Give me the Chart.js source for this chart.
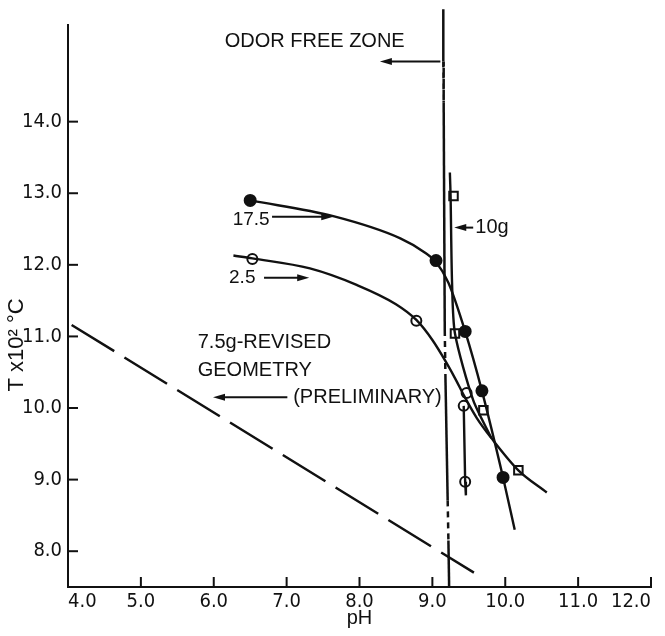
<!DOCTYPE html>
<html><head><meta charset="utf-8">
<script src="https://cdn.jsdelivr.net/npm/chart.js@4.4.1/dist/chart.umd.min.js"></script>
<style>html,body{margin:0;padding:0;background:#fff}canvas{display:block}</style>
</head><body>
<canvas id="c" width="665" height="636"></canvas>
<script>
// ---- tick values ----
const xTickValues = [4, 5, 6, 7, 8, 9, 10, 11, 12];
const yTickValues = [8, 9, 10, 11, 12, 13, 14];

// ---- measured points (markers) ----
const pH_175 = [6.50, 9.05, 9.45, 9.68, 9.97];
const T_175  = [12.90, 12.06, 11.07, 10.24, 9.03];
const pH_25  = [6.53, 8.78, 9.47, 9.43, 9.45];
const T_25   = [12.08, 11.22, 10.21, 10.03, 8.97];
const pH_10g = [9.29, 9.31, 9.70, 10.18];
const T_10g  = [12.96, 11.04, 9.97, 9.13];

// ---- drawn curves ----
const curve175_pH = [6.50, 7.64, 8.56, 8.90, 9.05, 9.22, 9.45, 9.68, 9.97, 10.13];
const curve175_T  = [12.90, 12.68, 12.37, 12.17, 12.04, 11.75, 11.07, 10.24, 9.03, 8.30];
const curve25_pH  = [6.27, 6.53, 7.32, 7.96, 8.50, 8.78, 9.00, 9.20, 9.33, 9.43, 9.61, 9.81, 10.18, 10.57];
const curve25_T   = [12.13, 12.09, 11.95, 11.72, 11.45, 11.23, 10.95, 10.62, 10.38, 10.18, 9.86, 9.58, 9.13, 8.82];
const drop25_pH   = [9.43, 9.45, 9.46];
const drop25_T    = [10.03, 8.97, 8.78];
const curve10g_pH = [9.24, 9.25, 9.27, 9.31, 9.56, 9.81];
const curve10g_T  = [13.29, 12.96, 11.75, 11.04, 10.11, 9.58];
const revised_pH  = [4.05, 9.57];
const revised_T   = [11.16, 7.70];
const odor_pH     = [9.15, 9.15, 9.155, 9.17, 9.18, 9.21, 9.22, 9.23];
const odor_T      = [15.57, 14.84, 14.27, 11.09, 10.39, 8.71, 8.15, 7.50];
const odorDashed  = [false, true, false, true, false, true, false];

// ---- annotations (data coordinates) ----
const noteTexts = ['ODOR FREE ZONE', '17.5', '2.5', '10g', '7.5g-REVISED', 'GEOMETRY', '(PRELIMINARY)'];
const notePH    = [6.15, 6.26, 6.21, 9.59, 5.78, 5.78, 7.09];
const noteT     = [15.12, 12.63, 11.82, 12.52, 10.91, 10.53, 10.15];
const noteSize  = [20, 19, 19, 20, 20, 20, 20];
const arrowFrom = [[9.11, 14.84], [6.80, 12.67], [6.69, 11.82], [9.56, 12.52], [7.01, 10.15]];
const arrowTo   = [[8.28, 14.84], [7.64, 12.67], [7.31, 11.82], [9.30, 12.52], [5.99, 10.15]];

const INK = '#111';
const FONT = "'Liberation Sans', Arial, sans-serif";
const NARROW = "'DejaVu Sans Condensed', 'Liberation Sans', sans-serif";

const pts = (xs, ys) => xs.map((v, i) => ({x: v, y: ys[i]}));

function lineDs(xs, ys, extra) {
  return Object.assign({
    type: 'line', data: pts(xs, ys), borderColor: INK, borderWidth: 2.4,
    pointRadius: 0, fill: false, tension: 0.35
  }, extra || {});
}
function markDs(xs, ys, extra) {
  return Object.assign({
    type: 'line', data: pts(xs, ys), showLine: false, borderColor: INK,
    pointBorderColor: INK, pointBorderWidth: 2, pointRadius: 5
  }, extra || {});
}

function drawArrow(ctx, x1, y1, x2, y2) {
  const a = Math.atan2(y2 - y1, x2 - x1), L = 12, W = 3.5;
  const c = Math.cos(a), s = Math.sin(a);
  ctx.beginPath(); ctx.moveTo(x1, y1); ctx.lineTo(x2 - L * 0.7 * c, y2 - L * 0.7 * s); ctx.stroke();
  ctx.beginPath(); ctx.moveTo(x2, y2);
  ctx.lineTo(x2 - L * c + W * s, y2 - L * s - W * c);
  ctx.lineTo(x2 - L * c - W * s, y2 - L * s + W * c);
  ctx.closePath(); ctx.fill();
}

const overlay = {
  id: 'overlay',
  afterDraw(chart) {
    const {ctx, chartArea} = chart;
    const xs = chart.scales.x, ys = chart.scales.y;
    ctx.save();
    ctx.strokeStyle = INK; ctx.fillStyle = INK; ctx.lineWidth = 2;
    // inward tick marks
    xs.ticks.forEach((t, i) => {
      if (i === 0) return;
      const px = xs.getPixelForValue(t.value);
      ctx.beginPath(); ctx.moveTo(px, chartArea.bottom); ctx.lineTo(px, chartArea.bottom - 10); ctx.stroke();
    });
    ys.ticks.forEach(t => {
      const py = ys.getPixelForValue(t.value);
      ctx.beginPath(); ctx.moveTo(chartArea.left, py); ctx.lineTo(chartArea.left + 10, py); ctx.stroke();
    });
    // texts
    ctx.textAlign = 'left'; ctx.textBaseline = 'middle';
    noteTexts.forEach((txt, i) => {
      ctx.font = noteSize[i] + 'px ' + FONT;
      ctx.fillText(txt, xs.getPixelForValue(notePH[i]), ys.getPixelForValue(noteT[i]));
    });
    // arrows
    arrowFrom.forEach((f, i) => {
      drawArrow(ctx, xs.getPixelForValue(f[0]), ys.getPixelForValue(f[1]),
                xs.getPixelForValue(arrowTo[i][0]), ys.getPixelForValue(arrowTo[i][1]));
    });
    // y-axis title
    ctx.translate(17, 345); ctx.rotate(-Math.PI / 2);
    ctx.textAlign = 'center'; ctx.font = '22px ' + FONT;
    ctx.fillText('T x10\u00B2 \u00B0C', 0, 0);
    ctx.restore();
  }
};

new Chart(document.getElementById('c'), {
  type: 'line',
  data: {
    datasets: [
      lineDs(odor_pH, odor_T, {
        tension: 0, borderWidth: 2.5, clip: false,
        segment: { borderDash: ctx => odorDashed[ctx.p0DataIndex] ? [6, 5] : [] }
      }),
      lineDs(revised_pH, revised_T, {tension: 0, borderWidth: 2.5, borderDash: [50, 12]}),
      lineDs(curve175_pH, curve175_T, {cubicInterpolationMode: 'monotone'}),
      lineDs(curve25_pH, curve25_T, {cubicInterpolationMode: 'monotone'}),
      lineDs(drop25_pH, drop25_T, {tension: 0}),
      lineDs(curve10g_pH, curve10g_T, {tension: 0.25}),
      markDs(pH_175, T_175, {pointBackgroundColor: INK, pointRadius: 5.5}),
      markDs(pH_25, T_25, {pointBackgroundColor: 'rgba(0,0,0,0)'}),
      markDs(pH_10g, T_10g, {pointStyle: 'rect', pointBackgroundColor: 'rgba(0,0,0,0)', pointRadius: 6})
    ]
  },
  options: {
    responsive: false, animation: false, devicePixelRatio: 1,
    layout: {padding: {left: 0, top: 25, right: 14, bottom: 0}},
    plugins: {legend: {display: false}, tooltip: {enabled: false}},
    scales: {
      x: {
        type: 'linear', min: 4, max: 12,
        grid: {display: false, drawTicks: false},
        border: {display: true, color: INK, width: 2},
        afterBuildTicks: s => { s.ticks = xTickValues.map(v => ({value: v})); },
        afterFit: s => { s.height = 49; s.paddingRight = 0; s.paddingLeft = 0; },
        ticks: {color: INK, padding: 3, maxRotation: 0, autoSkip: false, align: 'inner',
                font: {family: NARROW, size: 20}, callback: v => Number(v).toFixed(1)},
        title: {display: true, text: 'pH', color: INK, font: {family: FONT, size: 20},
                padding: {top: 0, bottom: 6}}
      },
      y: {
        type: 'linear', min: 7.5, max: 15.35,
        grid: {display: false, drawTicks: false},
        border: {display: true, color: INK, width: 2},
        afterBuildTicks: s => { s.ticks = yTickValues.map(v => ({value: v})); },
        afterFit: s => { s.width = 68; s.paddingTop = 0; s.paddingBottom = 0; },
        ticks: {color: INK, padding: 6, autoSkip: false,
                font: {family: NARROW, size: 20}, callback: v => Number(v).toFixed(1)}
      }
    }
  },
  plugins: [overlay]
});
</script>
</body></html>
